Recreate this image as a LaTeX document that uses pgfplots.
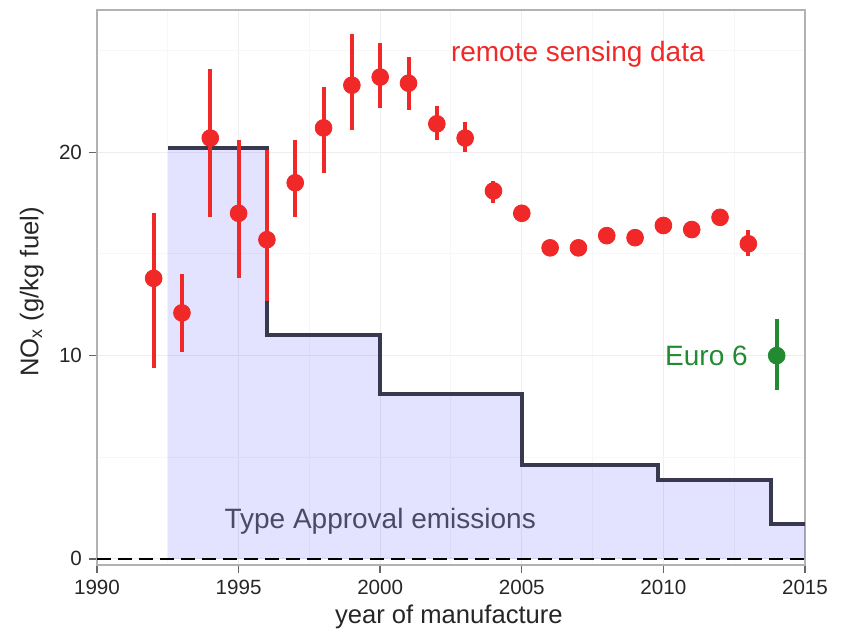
\documentclass[border=0pt]{standalone}
\usepackage{fontspec}
\setmainfont{Liberation Sans}
\usepackage{pgfplots}
\pgfplotsset{compat=1.18}
\usepackage{pgfplotstable}
\usetikzlibrary{calc}
\definecolor{myred}{RGB}{240,40,40}
\definecolor{mygreen}{RGB}{34,139,50}
\definecolor{stepcol}{RGB}{56,56,78}
\definecolor{tacol}{RGB}{74,74,104}

\pgfplotstableread{
x y ep em
1992 13.8 3.2 4.4
1993 12.1 1.9 1.9
1994 20.7 3.4 3.9
1995 17.0 3.6 3.2
1996 15.7 4.4 3.0
1997 18.5 2.1 1.7
1998 21.2 2.0 2.2
1999 23.3 2.5 2.2
2000 23.7 1.7 1.5
2001 23.4 1.3 1.3
2002 21.4 0.9 0.8
2003 20.7 0.8 0.7
2004 18.1 0.5 0.6
2005 17.0 0.3 0.3
2006 15.3 0 0
2007 15.3 0 0
2008 15.9 0 0
2009 15.8 0 0
2010 16.4 0 0
2011 16.2 0 0
2012 16.8 0 0
2013 15.5 0.7 0.6
}\remote

\pgfplotstableread{
x y ep em
2014 10.0 1.8 1.7
}\euro

\pgfplotstableread{
x y
1992.5 20.2
1996.0 11.0
2000.0 8.1
2005.0 4.6
2009.8 3.9
2013.8 1.7
2015.0 1.7
}\typeapp

\begin{document}
\begin{tikzpicture}
\begin{axis}[
  width=354pt, height=277.5pt, scale only axis,
  xmin=1990, xmax=2015, ymin=-0.3, ymax=27,
  xtick={1990,1995,...,2015}, ytick={0,10,20},
  minor xtick={1992.5,1997.5,2002.5,2007.5,2012.5},
  minor ytick={5,15,25},
  grid=both,
  major grid style={gray!13, line width=0.5pt},
  minor grid style={gray!6, line width=0.5pt},
  axis line style={gray!60, line width=0.6pt},
  tick align=outside, tick pos=left,
  major tick length=4pt, minor tick length=0pt,
  tick style={black!60, line width=0.7pt},
  tick label style={font=\fontsize{10.3}{12}\selectfont, text=black!85},
  /pgf/number format/assume math mode=true,
  /pgf/number format/set thousands separator={},
  xlabel={year of manufacture},
  ylabel={NO\textsubscript{x} (g/kg fuel)},
  label style={font=\fontsize{12.8}{15}\selectfont, text=black!85},
  xlabel style={at={(axis description cs:0.497,-0.094)}, anchor=center},
  ylabel style={at={(axis description cs:-0.092,0.492)}, anchor=center},
]
\coordinate (SW) at (rel axis cs:0,0);
\coordinate (NE) at (rel axis cs:1,1);
% type approval fill
\addplot[const plot, draw=none, fill=blue, fill opacity=0.11] table[x=x,y=y] {\typeapp} \closedcycle;
% type approval step line
\addplot[const plot, stepcol, line width=1.9pt] table[x=x,y=y] {\typeapp};
% zero line
\addplot[black, line width=1.3pt, dash pattern=on 7pt off 3.5pt] coordinates {(1990,0) (2015,0)};
% remote sensing data
\addplot[only marks, mark=*, mark size=4.2pt, color=myred,
  mark options={fill=myred, draw=myred},
  error bars/.cd, y dir=both, y explicit, error mark=none,
  error bar style={line width=2pt, myred}]
  table[x=x, y=y, y error plus=ep, y error minus=em] {\remote};
% Euro 6
\addplot[only marks, mark=*, mark size=4.2pt, color=mygreen,
  mark options={fill=mygreen, draw=mygreen},
  error bars/.cd, y dir=both, y explicit, error mark=none,
  error bar style={line width=2pt, mygreen}]
  table[x=x, y=y, y error plus=ep, y error minus=em] {\euro};
\node[anchor=base, text=myred, font=\fontsize{14}{16}\selectfont] at (axis cs:2006.98,24.45) {remote sensing data};
\node[anchor=base, text=mygreen, font=\fontsize{14}{16}\selectfont] at (axis cs:2011.52,9.53) {Euro 6};
\node[anchor=base, text=tacol, font=\fontsize{14}{16}\selectfont] at (axis cs:2000,1.5) {Type Approval emissions};
\end{axis}
\pgfresetboundingbox
\path[use as bounding box] ($(SW)+(-48.5pt,-32pt)$) rectangle ($(NE)+(18pt,5pt)$);
\end{tikzpicture}
\end{document}
